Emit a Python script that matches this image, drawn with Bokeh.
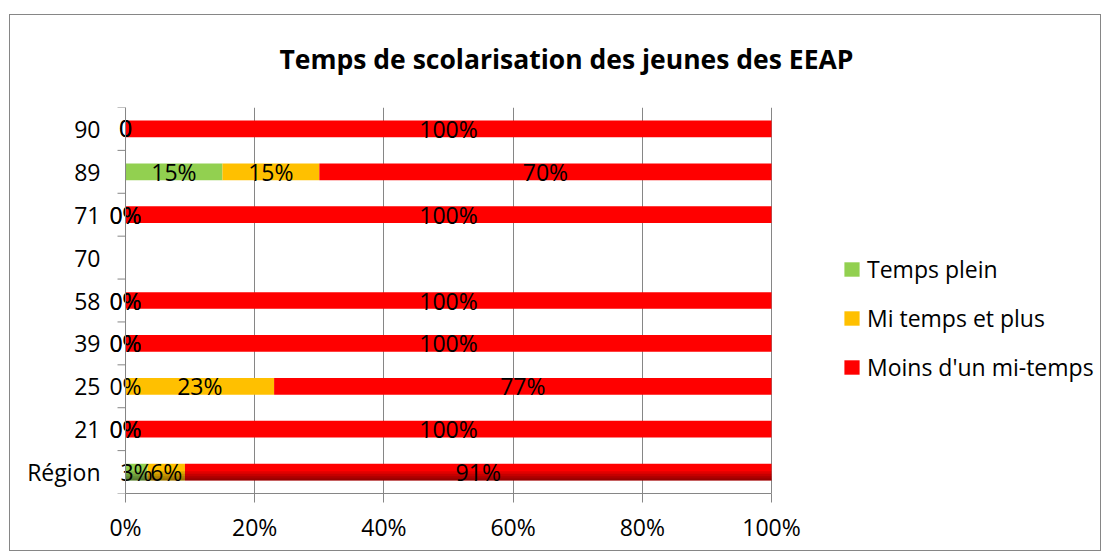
import math
from bokeh.plotting import figure
from bokeh.models import (FixedTicker, PrintfTickFormatter, Legend, LegendItem,
                          Range1d, Span, Title)
from bokeh.core.properties import value
from bokeh.embed import file_html
from bokeh.resources import INLINE

categories = ["Région", "21", "25", "39", "58", "70", "71", "89", "90"]
series_names = ["Temps plein", "Mi temps et plus", "Moins d'un mi-temps"]
temps_plein = [3.4, 0, 0, 0, 0, 0, 0, 15, 0]
mi_temps = [5.8, 0, 23, 0, 0, 0, 0, 15, 0]
moins_mi_temps = [90.8, 100, 77, 100, 100, 0, 100, 70, 100]
labels_tp = ["3%", "0%", "0%", "0%", "0%", "", "0%", "15%", "0"]
labels_mt = ["6%", "0%", "23%", "0%", "0%", "", "0%", "15%", "0"]
labels_mm = ["91%", "100%", "77%", "100%", "100%", "", "100%", "70%", "100%"]
colors = ["#92D050", "#FFC000", "#FF0000"]
x_ticks = [0, 20, 40, 60, 80, 100]
title_text = "Temps de scolarisation des jeunes des EEAP"

FONT = "Open Sans"
GRAY = "#868686"
BAR_H = 0.39

# layout (pixels)
W, H = 1092, 537
BORDER_L, BORDER_R, BORDER_T, BORDER_B = 95, 2, 90, 59
PX_PER_UNIT = 6.46          # 100 % spans 646 px
X_PAD = 3.1                 # room left of 0 % so labels at 0 are not cut
frame_w = W - BORDER_L - BORDER_R
x_end = -X_PAD + frame_w / PX_PER_UNIT   # extra room on the right holds the legend

ypos = list(range(len(categories)))

p = figure(width=W, height=H, output_backend="svg", toolbar_location=None,
           x_range=Range1d(-X_PAD, x_end), y_range=Range1d(-0.5, len(categories) - 0.5),
           min_border_left=BORDER_L, min_border_right=BORDER_R, min_border_top=BORDER_T,
           min_border_bottom=BORDER_B)
p.styles = {"margin-top": "14px", "margin-left": "9px",
            "border": "1px solid " + GRAY, "box-sizing": "border-box"}

# title: a thin spacer next to the frame, then the real title above it
p.title = None
p.add_layout(Title(text=" ", text_font_size="1px", standoff=5), "above")
p.add_layout(Title(text=title_text, text_font=FONT, text_font_style="bold",
                   text_font_size="26.5px", text_color="black", align="left",
                   offset=174, standoff=46), "above")

series = [temps_plein, mi_temps, moins_mi_temps]
label_sets = [labels_tp, labels_mt, labels_mm]
left = [0.0] * len(categories)
renderers = []
text_specs = []
for vals, col, labs in zip(series, colors, label_sets):
    right = [l + v for l, v in zip(left, vals)]
    r = p.hbar(y=ypos, left=left, right=right, height=BAR_H, fill_color=col,
               line_color=None)
    renderers.append(r)
    centers = [(l + rr) / 2 for l, rr in zip(left, right)]
    text_specs.append((centers, labs))
    left = right

# 3D shading of the "Région" bar
reg_idx = categories.index("Région")
reg_total = left[reg_idx]
for f in [0.55, 0.4, 0.25, 0.12]:
    p.hbar(y=[ypos[reg_idx] - BAR_H / 2 + f * BAR_H / 2], left=[0], right=[reg_total],
           height=f * BAR_H, fill_color="black", fill_alpha=0.12, line_color=None)

for centers, labs in text_specs:
    p.text(x=centers, y=ypos, text=labs, text_align="center", text_baseline="middle",
           text_font=value(FONT), text_font_size="23px", text_color="black")

# value axis line at 0% and category separators
p.add_layout(Span(location=0, dimension="height", line_color=GRAY, line_width=1))
sep = [i - 0.5 for i in range(len(categories) + 1)]
p.ray(x=[0] * len(sep), y=sep, length=8, length_units="screen", angle=math.pi,
      line_color=GRAY, line_width=1)

# axes
p.xaxis.ticker = FixedTicker(ticks=x_ticks)
p.xaxis.bounds = (0, 100)
p.xaxis.formatter = PrintfTickFormatter(format="%d%%")
p.xaxis.axis_line_color = GRAY
p.xaxis.major_tick_line_color = GRAY
p.xaxis.major_tick_out = 9
p.xaxis.major_tick_in = 0
p.xaxis.minor_tick_line_color = None
p.xaxis.major_label_standoff = 8
p.xaxis.major_label_text_font = FONT
p.xaxis.major_label_text_font_size = "23px"
p.xaxis.major_label_text_color = "black"

p.yaxis.ticker = FixedTicker(ticks=ypos)
p.yaxis.major_label_overrides = {i: c for i, c in zip(ypos, categories)}
p.yaxis.axis_line_color = None
p.yaxis.major_tick_line_color = None
p.yaxis.minor_tick_line_color = None
p.yaxis.major_tick_out = 0
p.yaxis.major_tick_in = 0
p.yaxis.minor_tick_out = 0
p.yaxis.minor_tick_in = 0
p.yaxis.major_label_standoff = 5
p.yaxis.major_label_text_font = FONT
p.yaxis.major_label_text_font_size = "23px"
p.yaxis.major_label_text_color = "black"

p.xgrid.grid_line_color = GRAY
p.xgrid.ticker = FixedTicker(ticks=x_ticks)
p.ygrid.grid_line_color = None
p.outline_line_color = None

legend = Legend(items=[LegendItem(label=n, renderers=[r]) for n, r in zip(series_names, renderers)],
                location=(737, 110), padding=0, margin=0, spacing=17,
                glyph_width=19, glyph_height=18, label_height=20, label_standoff=6,
                label_text_font=FONT, label_text_font_size="23px", label_text_color="black",
                border_line_color=None, background_fill_alpha=0)
p.add_layout(legend, "center")

open("out.html", "w").write(file_html(p, INLINE))
